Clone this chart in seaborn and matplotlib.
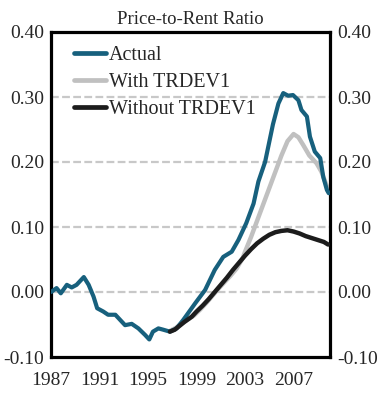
import matplotlib
matplotlib.use("Agg")
import matplotlib.pyplot as plt
import seaborn as sns

# Price-to-rent ratio
actual_years = [1987.0, 1987.45, 1987.8, 1988.3, 1988.7, 1989.1, 1989.7, 1990.1, 1990.5,
                1990.8, 1991.3, 1991.7, 1992.3, 1992.7, 1993.1, 1993.65, 1994.2, 1994.75,
                1995.1, 1995.4, 1995.85, 1996.25, 1996.8, 1997.35, 1997.9, 1998.4, 1998.9,
                1999.7, 2000.5, 2001.2, 2001.9, 2002.45, 2003.1, 2003.7, 2004.1, 2004.65,
                2005.3, 2005.75, 2006.15, 2006.55, 2006.95, 2007.4, 2007.65, 2008.1,
                2008.35, 2008.75, 2009.2, 2009.45, 2009.75, 2009.9]
actual = [0.000, 0.006, -0.002, 0.011, 0.007, 0.011, 0.023, 0.011, -0.007,
          -0.025, -0.030, -0.035, -0.035, -0.043, -0.051, -0.049, -0.056, -0.066,
          -0.073, -0.061, -0.056, -0.058, -0.061, -0.056, -0.043, -0.030, -0.017,
          0.003, 0.034, 0.054, 0.062, 0.080, 0.106, 0.136, 0.170, 0.200,
          0.258, 0.290, 0.306, 0.302, 0.303, 0.295, 0.280, 0.270,
          0.239, 0.216, 0.206, 0.177, 0.157, 0.152]

with_years = [1996.8, 1997.3, 1997.8, 1998.3, 1998.8, 1999.3, 1999.8, 2000.3, 2000.8,
              2001.3, 2001.8, 2002.3, 2002.8, 2003.0, 2003.5, 2004.0, 2004.5, 2005.0,
              2005.5, 2006.0, 2006.5, 2007.0, 2007.4, 2007.8, 2008.3, 2008.9, 2009.3,
              2009.6, 2009.85]
with_trdev = [-0.060, -0.055, -0.048, -0.042, -0.036, -0.027, -0.017, -0.006, 0.005,
              0.015, 0.025, 0.036, 0.052, 0.062, 0.085, 0.110, 0.135, 0.160,
              0.185, 0.210, 0.232, 0.243, 0.238, 0.226, 0.210, 0.198, 0.185,
              0.170, 0.158]

without_years = [1996.8, 1997.2, 1997.6, 1998.0, 1998.6, 1999.0, 1999.5, 2000.0, 2000.5,
                 2001.0, 2001.5, 2002.0, 2002.5, 2003.0, 2003.5, 2004.0, 2004.5, 2005.0,
                 2005.5, 2006.0, 2006.5, 2007.0, 2007.5, 2008.0, 2008.5, 2009.0, 2009.5,
                 2009.85]
without_trdev = [-0.061, -0.058, -0.052, -0.046, -0.038, -0.030, -0.021, -0.011, 0.000,
                 0.011, 0.022, 0.034, 0.045, 0.056, 0.066, 0.075, 0.082, 0.088,
                 0.092, 0.094, 0.095, 0.093, 0.090, 0.086, 0.083, 0.080, 0.077,
                 0.073]

year_ticks = [1987, 1991, 1995, 1999, 2003, 2007]
y_ticks = [-0.10, 0.00, 0.10, 0.20, 0.30, 0.40]
grid_levels = [0.00, 0.10, 0.20, 0.30]

sns.set_style("white")
plt.rcParams["font.family"] = ["Liberation Serif", "DejaVu Serif"]

fig = plt.figure(figsize=(3.9, 4.0), dpi=100)
ax = fig.add_axes([0.131, 0.1075, 0.715, 0.8125])

for lvl in grid_levels:
    ax.axhline(lvl, color="#c8c8c8", lw=1.6, ls=(0, (3.5, 1.5)), zorder=0)

sns.lineplot(x=actual_years, y=actual, ax=ax, color="#17607d", lw=3.0,
             label="Actual", zorder=3)
sns.lineplot(x=with_years, y=with_trdev, ax=ax, color="#c0c0c0", lw=3.2,
             label="With TRDEV1", zorder=2)
sns.lineplot(x=without_years, y=without_trdev, ax=ax, color="#1c1c1c", lw=3.2,
             label="Without TRDEV1", zorder=4)

ax.set_xlim(1987, 2010)
ax.set_ylim(-0.10, 0.40)
ax.set_xticks(year_ticks)
ax.set_xticklabels([str(y) for y in year_ticks])
ax.set_yticks(y_ticks)
ax.set_yticklabels([f"{v:.2f}" for v in y_ticks])

ax.tick_params(axis="x", direction="in", length=7, width=2.2, labelsize=14,
               pad=11, color="black")
ax.tick_params(axis="y", length=0, labelsize=14, pad=5,
               labelleft=True, labelright=True)
for s in ax.spines.values():
    s.set_visible(True)
    s.set_color("black")
    s.set_linewidth(2.3)

ax.set_title("Price-to-Rent Ratio", fontsize=13.5, pad=6)
ax.set_xlabel("")
ax.set_ylabel("")

leg = ax.legend(loc="upper left", frameon=False, fontsize=14.5, handlelength=1.6,
                handletextpad=0.15, labelspacing=0.4, borderaxespad=0.3,
                bbox_to_anchor=(0.03, 1.0))
for h in leg.get_lines():
    h.set_linewidth(3.4)

fig.savefig("out.png", dpi=100)
